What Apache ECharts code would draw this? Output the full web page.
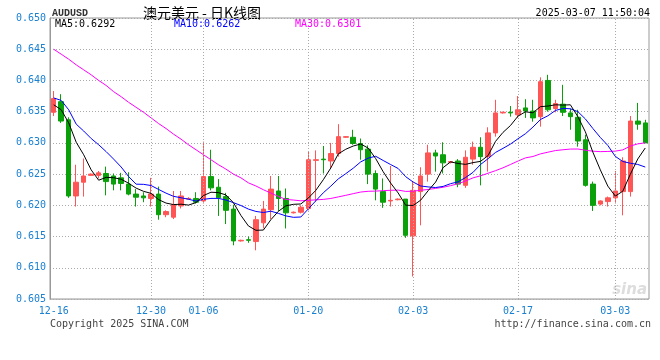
<!DOCTYPE html>
<html>
<head>
<meta charset="utf-8">
<script src="https://cdn.jsdelivr.net/npm/echarts@6/dist/echarts.min.js"></script>
<style>
html,body{margin:0;padding:0;background:#fff;}
#c{width:660px;height:360px;}
</style>
</head>
<body>
<div id="c"></div>
<script>
const categories = ['12-16','12-17','12-18','12-19','12-20','12-21','12-22','12-23','12-24','12-26',
'12-27','12-28','12-29','12-30','12-31','01-01','01-02','01-03','01-04','01-05',
'01-06','01-07','01-08','01-09','01-10','01-11','01-12','01-13','01-14','01-15',
'01-16','01-17','01-18','01-19','01-20','01-21','01-22','01-23','01-24','01-25',
'01-26','01-27','01-28','01-29','01-30','01-31','02-01','02-02','02-03','02-04',
'02-05','02-06','02-07','02-08','02-09','02-10','02-11','02-12','02-13','02-14',
'02-15','02-16','02-17','02-18','02-19','02-20','02-21','02-22','02-24','02-25',
'02-26','02-27','02-28','03-01','03-02','03-03','03-04','03-05','03-06','03-07'];
const labelDates = ['12-16','12-30','01-06','01-20','02-03','02-17','03-03'];
const yTicks = {min: 0.605, max: 0.650, step: 0.005};

const opens = [0.6349,0.6366,0.6337,0.6215,0.6237,0.6248,0.6248,0.6251,0.6247,0.6244,
0.6234,0.6218,0.6215,0.6211,0.6218,0.6185,0.6181,0.6199,0.6210,0.6211,
0.6207,0.6246,0.6229,0.6214,0.6194,0.6143,0.6145,0.6142,0.6172,0.6193,
0.6223,0.6211,0.6188,0.6189,0.6195,0.6272,0.6274,0.6271,0.6283,0.6309,
0.6309,0.6299,0.6290,0.6251,0.6222,0.6207,0.6209,0.6210,0.6151,0.6222,
0.6250,0.6284,0.6281,0.6269,0.6271,0.6232,0.6274,0.6293,0.6278,0.6316,
0.6348,0.6349,0.6345,0.6356,0.6351,0.6342,0.6400,0.6355,0.6362,0.6348,
0.6341,0.6305,0.6234,0.6202,0.6206,0.6212,0.6222,0.6222,0.6335,0.6332];
const closes = [0.6371,0.6335,0.6215,0.6237,0.6247,0.6250,0.6252,0.6238,0.6234,0.6235,
0.6218,0.6213,0.6212,0.6218,0.6185,0.6190,0.6201,0.6215,0.6211,0.6205,
0.6246,0.6228,0.6212,0.6192,0.6143,0.6144,0.6144,0.6177,0.6194,0.6226,
0.6211,0.6188,0.6189,0.6197,0.6273,0.6273,0.6273,0.6283,0.6310,0.6310,
0.6299,0.6289,0.6250,0.6226,0.6205,0.6208,0.6210,0.6152,0.6224,0.6247,
0.6284,0.6279,0.6268,0.6270,0.6234,0.6277,0.6293,0.6278,0.6316,0.6348,
0.6349,0.6348,0.6353,0.6351,0.6340,0.6398,0.6353,0.6363,0.6349,0.6342,
0.6303,0.6232,0.6200,0.6207,0.6212,0.6223,0.6271,0.6335,0.6330,0.6300];
const lows = [0.6343,0.6332,0.6212,0.6198,0.6214,0.6247,0.6243,0.6216,0.6224,0.6224,
0.6216,0.6198,0.6205,0.6198,0.6177,0.6181,0.6178,0.6195,0.6209,0.6203,
0.6203,0.6224,0.6183,0.6170,0.6136,0.6142,0.6140,0.6128,0.6163,0.6178,
0.6191,0.6163,0.6187,0.6187,0.6192,0.6206,0.6251,0.6259,0.6278,0.6308,
0.6297,0.6273,0.6234,0.6208,0.6196,0.6198,0.6208,0.6148,0.6086,0.6168,
0.6238,0.6254,0.6251,0.6267,0.6229,0.6228,0.6265,0.6232,0.6254,0.6310,
0.6347,0.6342,0.6340,0.6340,0.6334,0.6326,0.6350,0.6349,0.6343,0.6321,
0.6294,0.6230,0.6191,0.6200,0.6198,0.6203,0.6184,0.6214,0.6321,0.6300];
const highs = [0.6383,0.6378,0.6341,0.6265,0.6275,0.6251,0.6255,0.6262,0.6251,0.6252,
0.6253,0.6226,0.6221,0.6244,0.6230,0.6192,0.6223,0.6223,0.6213,0.6221,
0.6302,0.6289,0.6242,0.6220,0.6201,0.6145,0.6150,0.6183,0.6207,0.6247,
0.6247,0.6227,0.6190,0.6200,0.6287,0.6288,0.6295,0.6300,0.6330,0.6311,
0.6321,0.6307,0.6296,0.6256,0.6243,0.6263,0.6211,0.6210,0.6239,0.6261,
0.6297,0.6289,0.6301,0.6271,0.6274,0.6288,0.6302,0.6309,0.6325,0.6369,
0.6350,0.6359,0.6375,0.6370,0.6369,0.6405,0.6409,0.6369,0.6393,0.6355,
0.6353,0.6313,0.6238,0.6208,0.6214,0.6255,0.6277,0.6343,0.6364,0.6337];

const ma5 = [0.6361,0.6353,0.6332,0.6301,0.6281,0.62568,0.62402,0.62448,0.62442,0.62418,
0.62354,0.62276,0.62224,0.62192,0.62092,0.62036,0.62012,0.62018,0.62004,0.62044,
0.62156,0.62210,0.62204,0.62166,0.62042,0.61838,0.61670,0.61600,0.61604,0.61770,
0.61904,0.61992,0.62016,0.62022,0.62116,0.62240,0.62410,0.62598,0.62824,0.62898,
0.62950,0.62982,0.62916,0.62748,0.62538,0.62356,0.62198,0.62002,0.61998,0.62082,
0.62234,0.62372,0.62604,0.62696,0.62670,0.62656,0.62684,0.62704,0.62796,0.63024,
0.63168,0.63278,0.63428,0.63498,0.63482,0.63580,0.63590,0.63610,0.63606,0.63610,
0.63420,0.63178,0.62852,0.62568,0.62308,0.62148,0.62226,0.62496,0.62742,0.62918];
const ma10 = [0.6372,0.6368,0.6353,0.6330,0.6319,0.6307,0.6297,0.6286,0.6274,0.62614,
0.62461,0.62339,0.62336,0.62317,0.62255,0.62195,0.62144,0.62121,0.62098,0.62068,
0.62096,0.62111,0.62111,0.62085,0.62043,0.61997,0.61940,0.61902,0.61885,0.61906,
0.61871,0.61831,0.61808,0.61813,0.61943,0.62072,0.62201,0.62307,0.62423,0.62507,
0.62595,0.62696,0.62757,0.62786,0.62718,0.62653,0.62590,0.62459,0.62373,0.62310,
0.62295,0.62285,0.62303,0.62347,0.62376,0.62445,0.62528,0.62654,0.62746,0.62847,
0.62912,0.62981,0.63066,0.63147,0.63253,0.63374,0.63434,0.63519,0.63552,0.63546,
0.63500,0.63384,0.63231,0.63087,0.62959,0.62784,0.62702,0.62674,0.62655,0.62613];
const ma30 = [0.6450,0.6442,0.6434,0.6425,0.6417,0.6409,0.6400,0.6392,0.6382,0.6374,
0.6365,0.6357,0.6349,0.6340,0.6331,0.6323,0.6314,0.6306,0.6297,0.6289,
0.6281,0.6273,0.6265,0.6258,0.6250,0.6244,0.6236,0.6231,0.6225,0.62196,
0.62143,0.62094,0.62085,0.62072,0.62080,0.62088,0.62095,0.62110,0.62135,0.62160,
0.62187,0.62213,0.62225,0.62228,0.62235,0.62241,0.62244,0.62223,0.62227,0.62241,
0.62254,0.62271,0.62289,0.62315,0.62346,0.62390,0.62440,0.62473,0.62514,0.62555,
0.62601,0.62654,0.62709,0.62760,0.62782,0.62824,0.62851,0.62877,0.62890,0.62901,
0.62902,0.62883,0.62867,0.62860,0.62863,0.62868,0.62888,0.62949,0.62984,0.63002];

const legendTexts = ['MA5:0.6292','MA10:0.6262','MA30:0.6301'];
const titleText = '澳元美元 - 日K线图';
const symbolText = 'AUDUSD';
const timeText = '2025-03-07 11:50:04';
const copyText = 'Copyright 2025 SINA.COM';
const urlText = 'http://finance.sina.com.cn';

const RED = '#ff5555', GREEN = '#0aa00a', BLUE = '#1a80d0';
const MONO = '10px "DejaVu Sans Mono", monospace';

const candleData = opens.map((o, i) => [o, closes[i], lows[i], highs[i]]);

const chart = echarts.init(document.getElementById('c'), null, {renderer: 'canvas'});
chart.setOption({
  animation: false,
  backgroundColor: '#fff',
  grid: {left: 50, right: 11, top: 18, bottom: 61, show: true, borderColor: '#999', borderWidth: 1},
  xAxis: {
    type: 'category', data: categories, boundaryGap: true,
    axisLine: {show: true, lineStyle: {color: '#aaa', type: [1, 2]}},
    axisTick: {show: false},
    axisLabel: {
      interval: (i, v) => labelDates.includes(v),
      color: BLUE, fontFamily: '"DejaVu Sans Mono", monospace', fontSize: 10, margin: 7
    },
    splitLine: {show: false}
  },
  yAxis: {
    type: 'value', min: yTicks.min, max: yTicks.max, interval: yTicks.step, scale: true,
    axisLine: {show: true, lineStyle: {color: '#999'}},
    axisTick: {show: false},
    axisLabel: {formatter: v => v.toFixed(3), color: BLUE, fontFamily: '"DejaVu Sans Mono", monospace', fontSize: 10, margin: 4},
    splitLine: {show: true, lineStyle: {color: '#aaa', type: [1, 2], width: 1}}
  },
  series: [
    {
      type: 'line', data: [], z: 1, silent: true,
      markLine: {
        silent: true, symbol: ['none', 'none'], label: {show: false}, animation: false,
        lineStyle: {color: '#aaa', type: [1, 2], width: 1},
        data: labelDates.slice(1).map(d => ({xAxis: d}))
      }
    },
    {
      type: 'candlestick', data: candleData, z: 3, barWidth: 5,
      itemStyle: {color: RED, color0: GREEN, borderColor: RED, borderColor0: GREEN, borderWidth: 1}
    },
    {type: 'line', data: ma30, z: 4, showSymbol: false, symbol: 'none', lineStyle: {color: '#ff00ff', width: 1}},
    {type: 'line', data: ma10, z: 4, showSymbol: false, symbol: 'none', lineStyle: {color: '#0000ff', width: 1}},
    {type: 'line', data: ma5, z: 5, showSymbol: false, symbol: 'none', lineStyle: {color: '#000000', width: 1}}
  ],
  graphic: [
    {type: 'text', x: 52, y: 13, style: {text: symbolText, font: 'bold 10px "Liberation Mono", monospace', fill: '#333', textVerticalAlign: 'middle'}},
    {type: 'text', x: 202, y: 13, style: {text: titleText, font: '14px "Noto Sans CJK SC", sans-serif', fill: '#000', textAlign: 'center', textVerticalAlign: 'middle'}},
    {type: 'text', x: 650, y: 13, style: {text: timeText, font: MONO, fill: '#000', textAlign: 'right', textVerticalAlign: 'middle'}},
    {type: 'text', x: 55, y: 24, style: {text: legendTexts[0], font: MONO, fill: '#000', textVerticalAlign: 'middle'}},
    {type: 'text', x: 174, y: 24, style: {text: legendTexts[1], font: MONO, fill: '#0000ff', textVerticalAlign: 'middle'}},
    {type: 'text', x: 295, y: 24, style: {text: legendTexts[2], font: MONO, fill: '#ff00ff', textVerticalAlign: 'middle'}},
    {type: 'text', x: 50, y: 324, style: {text: copyText, font: MONO, fill: '#444', textVerticalAlign: 'middle'}},
    {type: 'text', x: 651, y: 324, style: {text: urlText, font: MONO, fill: '#444', textAlign: 'right', textVerticalAlign: 'middle'}},
    {type: 'text', x: 647, y: 290, z: 0, style: {text: 'sina', font: 'italic bold 15px "DejaVu Sans", sans-serif', fill: '#dddddd', textAlign: 'right', textVerticalAlign: 'middle'}}
  ]
});
</script>
</body>
</html>
